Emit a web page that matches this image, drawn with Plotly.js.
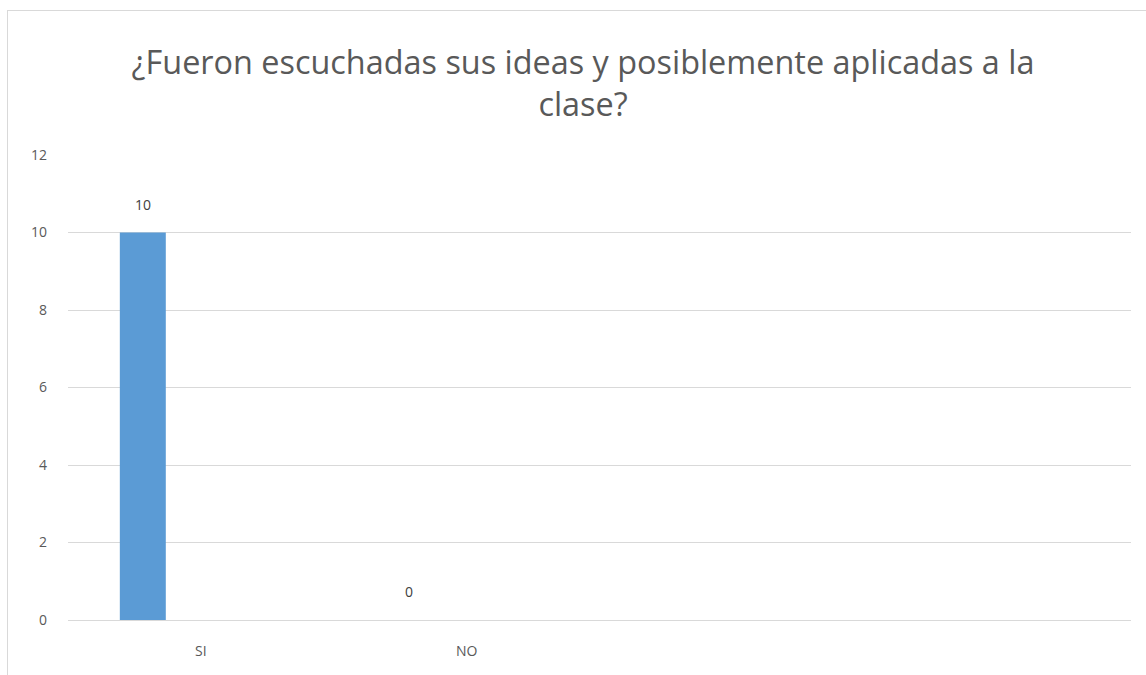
<!DOCTYPE html>
<html>
<head>
<meta charset="utf-8">
<script src="https://cdn.plot.ly/plotly-3.0.1.min.js"></script>
<style>
html,body{margin:0;padding:0;background:#fff;}
#chart{width:1146px;height:675px;position:relative;}
#frame{position:absolute;left:7px;top:10px;right:0;bottom:0;border-left:1px solid #d9d9d9;border-top:1px solid #d9d9d9;pointer-events:none;}
</style>
</head>
<body>
<div id="chart"></div>
<div id="frame"></div>
<script>
const categories = ["SI", "NO"];
const values = [10, 0];
const yTicks = [0, 2, 4, 6, 8, 10, 12];
const titleText = "¿Fueron escuchadas sus ideas y posiblemente aplicadas a la<br>clase?";
const slotCount = 4;

const xPos = categories.map((c, i) => i);
const barOffset = -0.305;
const barWidth = 0.173;

const trace = {
  type: "bar",
  x: xPos,
  y: values,
  offset: barOffset,
  width: barWidth,
  marker: {color: "#5b9bd5"},
  hoverinfo: "skip"
};

const annotations = values.map((v, i) => ({
  x: xPos[i] + barOffset + barWidth / 2,
  y: v,
  xref: "x",
  yref: "y",
  text: String(v),
  showarrow: false,
  yanchor: "bottom",
  yshift: 17,
  font: {family: "Open Sans, sans-serif", size: 14, color: "#404040"}
}));

const layout = {
  width: 1146,
  height: 675,
  paper_bgcolor: "#ffffff",
  plot_bgcolor: "#ffffff",
  margin: {l: 68, r: 15, t: 155, b: 55},
  showlegend: false,
  title: {
    text: titleText,
    x: 0.4845,
    xref: "paper",
    yref: "container",
    y: 1 - 74 / 675,
    yanchor: "middle",
    font: {family: "Open Sans, sans-serif", size: 32.4, color: "#595959"}
  },
  xaxis: {
    range: [-0.5, slotCount - 0.5],
    tickvals: xPos,
    ticktext: categories,
    showgrid: false,
    zeroline: false,
    showline: true,
    linecolor: "#d9d9d9",
    linewidth: 1,
    ticks: "",
    ticklabelstandoff: 18,
    tickfont: {family: "Open Sans, sans-serif", size: 14, color: "#595959"},
    fixedrange: true
  },
  yaxis: {
    range: [0, 12],
    tickvals: yTicks,
    ticktext: yTicks.map(String),
    showgrid: true,
    gridcolor: "#d9d9d9",
    gridwidth: 1,
    zeroline: false,
    showline: false,
    ticks: "",
    ticklabelstandoff: 20,
    tickfont: {family: "Open Sans, sans-serif", size: 14, color: "#595959"},
    fixedrange: true
  },
  annotations: annotations
};

Plotly.newPlot("chart", [trace], layout, {displayModeBar: false, staticPlot: true});
</script>
</body>
</html>
